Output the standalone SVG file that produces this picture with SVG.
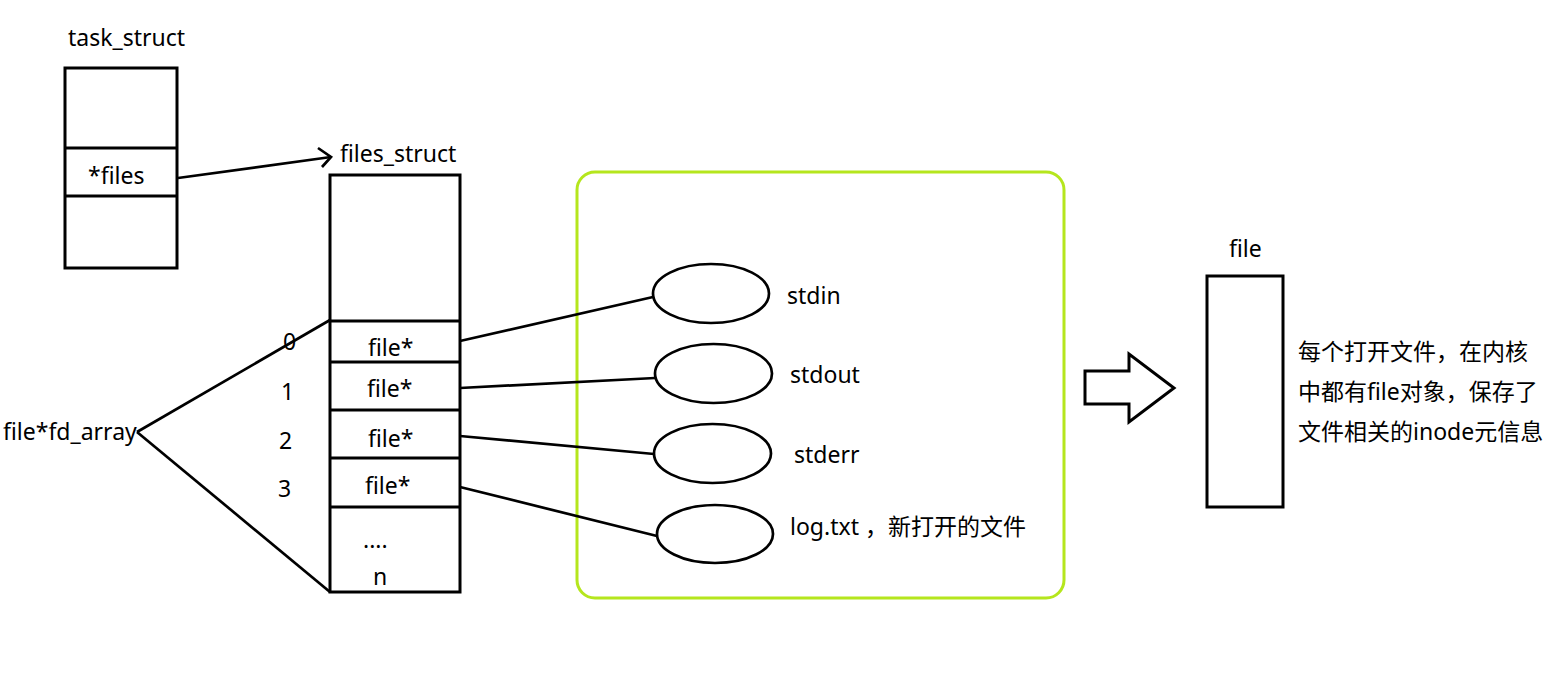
<svg xmlns="http://www.w3.org/2000/svg" width="1567" height="681" viewBox="0 0 1567 681">
<style>
text{font-family:"Noto Sans","Noto Sans CJK SC",sans-serif;font-size:23px;fill:#000}
.box{fill:#fff;stroke:#000;stroke-width:3}
.ln{fill:none;stroke:#000;stroke-width:2.7}
.div{stroke:#000;stroke-width:3}
.ell{fill:#fff;stroke:#000;stroke-width:2.7}
</style>
<rect width="1567" height="681" fill="#fff"/>
<g id="group">
<rect x="577" y="172" width="487" height="426" rx="18" fill="none" stroke="#b5e61d" stroke-width="3"/>
</g>
<g id="connectors">
<line class="ln" x1="178" y1="178" x2="331" y2="157"/>
<polyline class="ln" points="318,148 331,157 322,167"/>
<line class="ln" x1="137" y1="432" x2="330" y2="320"/>
<line class="ln" x1="137" y1="432" x2="330" y2="592"/>
<line class="ln" x1="460" y1="341" x2="653" y2="297"/>
<line class="ln" x1="460" y1="388" x2="655" y2="378"/>
<line class="ln" x1="460" y1="436" x2="654" y2="454"/>
<line class="ln" x1="460" y1="487" x2="657" y2="536"/>
</g>
<g id="task_struct">
<text x="68" y="46">task_struct</text>
<rect class="box" x="65" y="68" width="112" height="200"/>
<line class="div" x1="65" y1="148" x2="177" y2="148"/>
<line class="div" x1="65" y1="196" x2="177" y2="196"/>
<text x="88" y="184">*files</text>
</g>
<g id="files_struct">
<text x="340" y="162">files_struct</text>
<rect class="box" x="330" y="175" width="130" height="417"/>
<line class="div" x1="330" y1="321" x2="460" y2="321"/>
<line class="div" x1="330" y1="362" x2="460" y2="362"/>
<line class="div" x1="330" y1="410" x2="460" y2="410"/>
<line class="div" x1="330" y1="458" x2="460" y2="458"/>
<line class="div" x1="330" y1="507" x2="460" y2="507"/>
<text x="368" y="356">file*</text>
<text x="367" y="397">file*</text>
<text x="368" y="447">file*</text>
<text x="365" y="494">file*</text>
<text x="363" y="548">....</text>
<text x="373" y="585">n</text>
</g>
<g id="fd_array">
<text x="3" y="440">file*fd_array</text>
<text x="283" y="350">0</text>
<text x="281" y="400">1</text>
<text x="279" y="449">2</text>
<text x="278" y="497">3</text>
</g>
<g id="stdin">
<ellipse class="ell" cx="711" cy="293.5" rx="58" ry="29.5"/>
<text x="787" y="304">stdin</text>
</g>
<g id="stdout">
<ellipse class="ell" cx="713.5" cy="373.5" rx="58.5" ry="29.5"/>
<text x="790" y="383">stdout</text>
</g>
<g id="stderr">
<ellipse class="ell" cx="712.5" cy="453.5" rx="58.5" ry="29.5"/>
<text x="794" y="463">stderr</text>
</g>
<g id="logtxt">
<ellipse class="ell" cx="715" cy="534" rx="58" ry="29"/>
<text x="790" y="535">log.txt ，新打开的文件</text>
</g>
<g id="bigarrow">
<polygon class="box" points="1085,371 1129,371 1129,354 1174,388 1129,422 1129,404 1085,404"/>
</g>
<g id="file">
<text x="1229" y="257">file</text>
<rect class="box" x="1207" y="276" width="76" height="231"/>
<text x="1298" y="360">每个打开文件，在内核</text>
<text x="1298" y="400">中都有file对象，保存了</text>
<text x="1298" y="440">文件相关的inode元信息</text>
</g>
</svg>
